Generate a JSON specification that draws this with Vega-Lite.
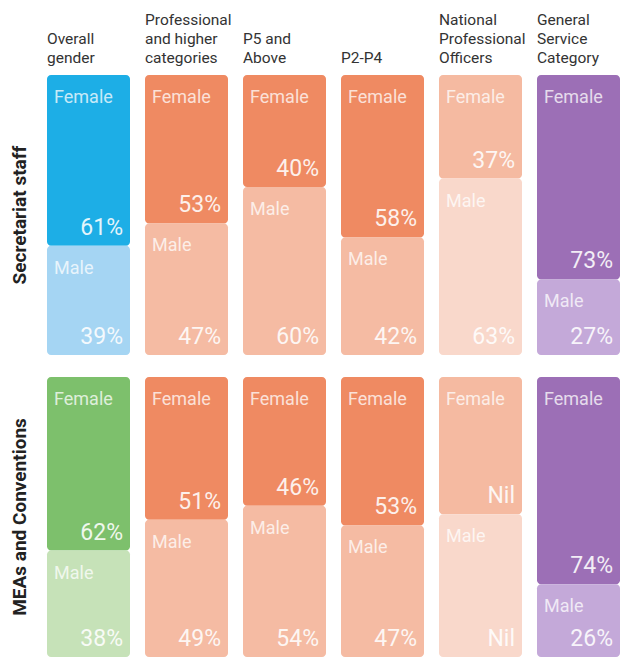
{
  "$schema": "https://vega.github.io/schema/vega-lite/v6.json",
  "padding": {"left": 10, "top": 12, "right": 0, "bottom": 0},
  "background": "white",
  "data": {"values": [
    {"row": "Secretariat staff", "col": "Overall|gender", "gender": "Female", "ord": 1, "value": 61, "label": "61%"},
    {"row": "Secretariat staff", "col": "Overall|gender", "gender": "Male", "ord": 2, "value": 39, "label": "39%"},
    {"row": "Secretariat staff", "col": "Professional|and higher|categories", "gender": "Female", "ord": 1, "value": 53, "label": "53%"},
    {"row": "Secretariat staff", "col": "Professional|and higher|categories", "gender": "Male", "ord": 2, "value": 47, "label": "47%"},
    {"row": "Secretariat staff", "col": "P5 and|Above", "gender": "Female", "ord": 1, "value": 40, "label": "40%"},
    {"row": "Secretariat staff", "col": "P5 and|Above", "gender": "Male", "ord": 2, "value": 60, "label": "60%"},
    {"row": "Secretariat staff", "col": "P2-P4", "gender": "Female", "ord": 1, "value": 58, "label": "58%"},
    {"row": "Secretariat staff", "col": "P2-P4", "gender": "Male", "ord": 2, "value": 42, "label": "42%"},
    {"row": "Secretariat staff", "col": "National|Professional|Officers", "gender": "Female", "ord": 1, "value": 37, "label": "37%"},
    {"row": "Secretariat staff", "col": "National|Professional|Officers", "gender": "Male", "ord": 2, "value": 63, "label": "63%"},
    {"row": "Secretariat staff", "col": "General|Service|Category", "gender": "Female", "ord": 1, "value": 73, "label": "73%"},
    {"row": "Secretariat staff", "col": "General|Service|Category", "gender": "Male", "ord": 2, "value": 27, "label": "27%"},
    {"row": "MEAs and Conventions", "col": "Overall|gender", "gender": "Female", "ord": 1, "value": 62, "label": "62%"},
    {"row": "MEAs and Conventions", "col": "Overall|gender", "gender": "Male", "ord": 2, "value": 38, "label": "38%"},
    {"row": "MEAs and Conventions", "col": "Professional|and higher|categories", "gender": "Female", "ord": 1, "value": 51, "label": "51%"},
    {"row": "MEAs and Conventions", "col": "Professional|and higher|categories", "gender": "Male", "ord": 2, "value": 49, "label": "49%"},
    {"row": "MEAs and Conventions", "col": "P5 and|Above", "gender": "Female", "ord": 1, "value": 46, "label": "46%"},
    {"row": "MEAs and Conventions", "col": "P5 and|Above", "gender": "Male", "ord": 2, "value": 54, "label": "54%"},
    {"row": "MEAs and Conventions", "col": "P2-P4", "gender": "Female", "ord": 1, "value": 53, "label": "53%"},
    {"row": "MEAs and Conventions", "col": "P2-P4", "gender": "Male", "ord": 2, "value": 47, "label": "47%"},
    {"row": "MEAs and Conventions", "col": "National|Professional|Officers", "gender": "Female", "ord": 1, "value": 49, "label": "Nil"},
    {"row": "MEAs and Conventions", "col": "National|Professional|Officers", "gender": "Male", "ord": 2, "value": 51, "label": "Nil"},
    {"row": "MEAs and Conventions", "col": "General|Service|Category", "gender": "Female", "ord": 1, "value": 74, "label": "74%"},
    {"row": "MEAs and Conventions", "col": "General|Service|Category", "gender": "Male", "ord": 2, "value": 26, "label": "26%"}
  ]},
  "transform": [
    {"stack": "value", "groupby": ["row", "col"], "sort": [{"field": "ord", "order": "ascending"}], "as": ["v0", "v1"]},
    {"calculate": "datum.col == 'Overall|gender' ? (datum.row == 'Secretariat staff' ? 'blue' : 'green') : (datum.col == 'National|Professional|Officers' ? 'npo' : (datum.col == 'General|Service|Category' ? 'purple' : 'orange'))", "as": "tone"},
    {"calculate": "datum.tone + '-' + datum.gender", "as": "key"}
  ],
  "facet": {
    "row": {"field": "row", "type": "nominal", "sort": ["Secretariat staff", "MEAs and Conventions"],
      "header": {"title": null, "labelAngle": -90, "labelFontWeight": "bold", "labelFontSize": 19, "labelFont": "Roboto", "labelColor": "#222", "labelPadding": 8, "labelOrient": "left"}},
    "column": {"field": "col", "type": "nominal",
      "sort": ["Overall|gender", "Professional|and higher|categories", "P5 and|Above", "P2-P4", "National|Professional|Officers", "General|Service|Category"],
      "header": {"title": null, "labelExpr": "split(datum.value, '|')", "labelAlign": "left", "labelAnchor": "start", "labelBaseline": "bottom", "labelFontSize": 15.5, "labelLineHeight": 19, "labelPadding": -6, "labelColor": "#333", "labelFont": "Roboto"}}
  },
  "spacing": {"row": 22, "column": 15},
  "resolve": {"scale": {"x": "independent"}},
  "spec": {
    "width": 83,
    "height": 280,
    "encoding": {
      "x": {"field": "col", "type": "nominal", "axis": null, "scale": {"paddingInner": 0, "paddingOuter": 0}}
    },
    "layer": [
      {
        "mark": {"type": "bar", "cornerRadius": 4},
        "encoding": {
          "y": {"field": "v0", "type": "quantitative", "scale": {"domain": [0, 100], "reverse": true, "nice": false}, "axis": null},
          "y2": {"field": "v1"},
          "color": {"field": "key", "type": "nominal", "legend": null,
            "scale": {"domain": ["blue-Female", "blue-Male", "green-Female", "green-Male", "orange-Female", "orange-Male", "npo-Female", "npo-Male", "purple-Female", "purple-Male"],
              "range": ["#1DAEE6", "#A5D5F3", "#7DC06C", "#C6E2B8", "#EF8A62", "#F5BBA3", "#F5BAA1", "#F9D8CB", "#9C6FB6", "#C4A9D9"]}}
        }
      },
      {
        "mark": {"type": "text", "align": "left", "baseline": "middle", "dx": 7, "dy": 23, "font": "Roboto", "fontSize": 18, "color": "white", "opacity": 0.75},
        "encoding": {
          "x": {"field": "col", "type": "nominal", "bandPosition": 0},
          "y": {"field": "v0", "type": "quantitative"},
          "text": {"field": "gender"}
        }
      },
      {
        "mark": {"type": "text", "align": "right", "baseline": "middle", "dx": -7, "dy": -18, "font": "Roboto", "fontSize": 23, "color": "white", "opacity": 0.88},
        "encoding": {
          "x": {"field": "col", "type": "nominal", "bandPosition": 1},
          "y": {"field": "v1", "type": "quantitative"},
          "text": {"field": "label"}
        }
      }
    ]
  },
  "config": {"view": {"stroke": null}}
}
